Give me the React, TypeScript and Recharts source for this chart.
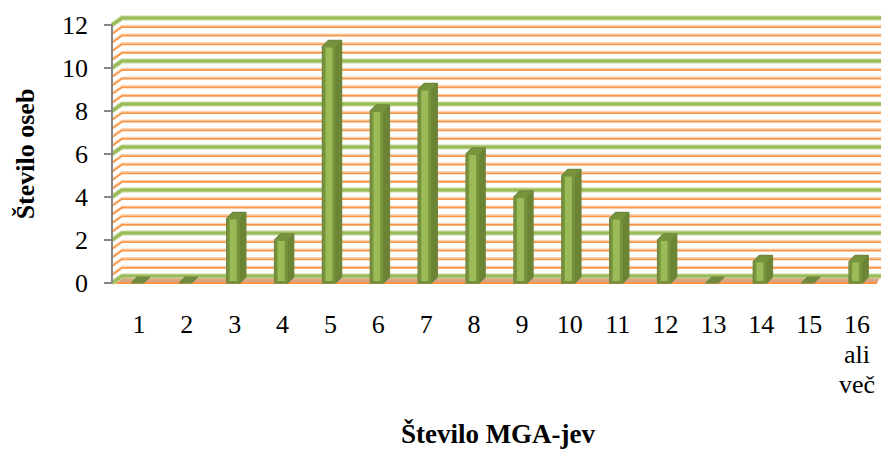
import React from "react"
import { BarChart, Bar, XAxis, YAxis, CartesianGrid, Label } from "recharts"

const categories = ["1", "2", "3", "4", "5", "6", "7", "8", "9", "10", "11", "12", "13", "14", "15", "16 ali več"]
const counts = [0, 0, 3, 2, 11, 8, 9, 6, 4, 5, 3, 2, 0, 1, 0, 1]
const yTicks = [0, 2, 4, 6, 8, 10, 12]

const data = categories.map((name, i) => ({ name, value: counts[i] }))

// minor gridlines every 0.4 between the major ticks
const minorTicks: number[] = []
for (let i = 0; i < yTicks.length - 1; i++) {
  for (let k = 1; k < 5; k++) minorTicks.push(yTicks[i] + k * 0.4)
}

const FONT = "'Liberation Serif', 'Times New Roman', serif"
const DX = 10 // depth of the back wall
const DY = 7
const Y_MAX = yTicks[yTicks.length - 1]

// map values to pixels with the axis scale when it is exposed, else from the plot box
const toY = (arg: any, v: number) => {
  const s = arg?.yAxis?.scale
  if (typeof s === "function") return s(v)
  if (s && typeof s.map === "function") return s.map(v)
  const { offset } = arg
  return offset.top + offset.height * (1 - v / Y_MAX)
}

function MajorLine(props: any) {
  const { x1, x2, y1 } = props
  const isFloor = props.index === 0
  return (
    <g>
      {isFloor && (
        <polygon
          points={`${x1},${y1} ${x1 + DX},${y1 - DY} ${x2},${y1 - DY} ${x2 - 4},${y1}`}
          fill="#d9a47f"
        />
      )}
      {isFloor && <line x1={x1} y1={y1} x2={x2 - 4} y2={y1} stroke="#f79646" strokeWidth={2} />}
      <polyline
        points={`${x1},${y1} ${x1 + DX},${y1 - DY} ${x2},${y1 - DY}`}
        fill="none"
        stroke="#c6d9a0"
        strokeWidth={5}
      />
      <polyline
        points={`${x1},${y1} ${x1 + DX},${y1 - DY} ${x2},${y1 - DY}`}
        fill="none"
        stroke="#9bbb59"
        strokeWidth={3}
      />
    </g>
  )
}

function MinorLine(props: any) {
  const { x1, x2, y1 } = props
  return (
    <g>
      <polyline
        points={`${x1},${y1 - 1} ${x1 + DX},${y1 - DY - 1} ${x2},${y1 - DY - 1}`}
        fill="none"
        stroke="#fbd3b2"
        strokeWidth={1.5}
      />
      <polyline
        points={`${x1},${y1 + 0.5} ${x1 + DX},${y1 - DY + 0.5} ${x2},${y1 - DY + 0.5}`}
        fill="none"
        stroke="#f79646"
        strokeWidth={1.8}
      />
    </g>
  )
}

function Column3D(props: any) {
  const { x, y, width, height } = props
  const w = width
  const x0 = x - 1
  const d = 6
  const h = Math.max(height || 0, 0)
  if (h < 0.5) {
    return (
      <polygon
        points={`${x0},${y} ${x0 + d},${y - d} ${x0 + w + d},${y - d} ${x0 + w},${y}`}
        fill="#71893f"
        stroke="#71893f"
        strokeWidth={1}
        strokeLinejoin="round"
      />
    )
  }
  return (
    <g>
      <polygon
        points={`${x0},${y + h} ${x0},${y} ${x0 + d},${y - d} ${x0 + w + d},${y - d} ${x0 + w + d},${y + h - d} ${x0 + w},${y + h}`}
        fill="#77933c"
        stroke="#71893f"
        strokeWidth={1.5}
        strokeLinejoin="round"
      />
      <polygon
        points={`${x0 + w},${y} ${x0 + w + d},${y - d} ${x0 + w + d},${y + h - d} ${x0 + w},${y + h}`}
        fill="#6b8535"
      />
      <rect x={x0 + 3} y={y + 1} width={w - 6} height={Math.max(h - 3, 0)} fill="#9bbb59" />
    </g>
  )
}

function CategoryTick(props: any) {
  const { x, y, payload } = props
  const lines = String(payload.value).split(" ")
  return (
    <text x={x} y={y + 50} textAnchor="middle" style={{ fontFamily: FONT, fontSize: 26 }} fill="#000">
      {lines.map((ln, i) => (
        <tspan key={i} x={x} dy={i === 0 ? 0 : 30}>
          {ln}
        </tspan>
      ))}
    </text>
  )
}

export default function App() {
  return (
    <div style={{ position: "absolute", left: 0, top: 0, width: 881, height: 450, background: "#fff" }}>
      <BarChart width={881} height={450} data={data} margin={{ top: 25, right: 0, left: 0, bottom: 0 }} barSize={13}>
        <CartesianGrid
          vertical={false}
          horizontal={(p: any) => <MinorLine key={p.key} {...p} />}
          horizontalCoordinatesGenerator={(arg: any) => minorTicks.map((v) => toY(arg, v))}
          stroke="none"
        />
        <CartesianGrid
          vertical={false}
          horizontal={(p: any) => <MajorLine key={p.key} {...p} />}
          horizontalCoordinatesGenerator={(arg: any) => yTicks.map((v) => toY(arg, v))}
          stroke="none"
        />
        <XAxis
          dataKey="name"
          height={167}
          axisLine={false}
          tickLine={false}
          tickSize={0}
          tickMargin={0}
          interval={0}
          padding={{ left: 3, right: 0 }}
          tick={<CategoryTick />}
        >
          <Label
            content={() => (
              <text x={498} y={443} textAnchor="middle" style={{ fontFamily: FONT, fontSize: 27, fontWeight: "bold" }} fill="#000">
                Število MGA-jev
              </text>
            )}
          />
        </XAxis>
        <YAxis
          width={112}
          domain={[0, Y_MAX]}
          ticks={yTicks}
          interval={0}
          tickSize={8}
          tickMargin={16}
          axisLine={{ stroke: "#868686", strokeWidth: 2 }}
          tickLine={{ stroke: "#868686", strokeWidth: 2 }}
          tick={{ fontFamily: FONT, fontSize: 26, fill: "#000" }}
        >
          <Label
            content={() => (
              <text
                x={0}
                y={0}
                transform="translate(34,154) rotate(-90)"
                textAnchor="middle"
                style={{ fontFamily: FONT, fontSize: 26, fontWeight: "bold" }}
                fill="#000"
              >
                Število oseb
              </text>
            )}
          />
        </YAxis>
        <Bar dataKey="value" isAnimationActive={false} shape={<Column3D />} />
      </BarChart>
    </div>
  )
}
